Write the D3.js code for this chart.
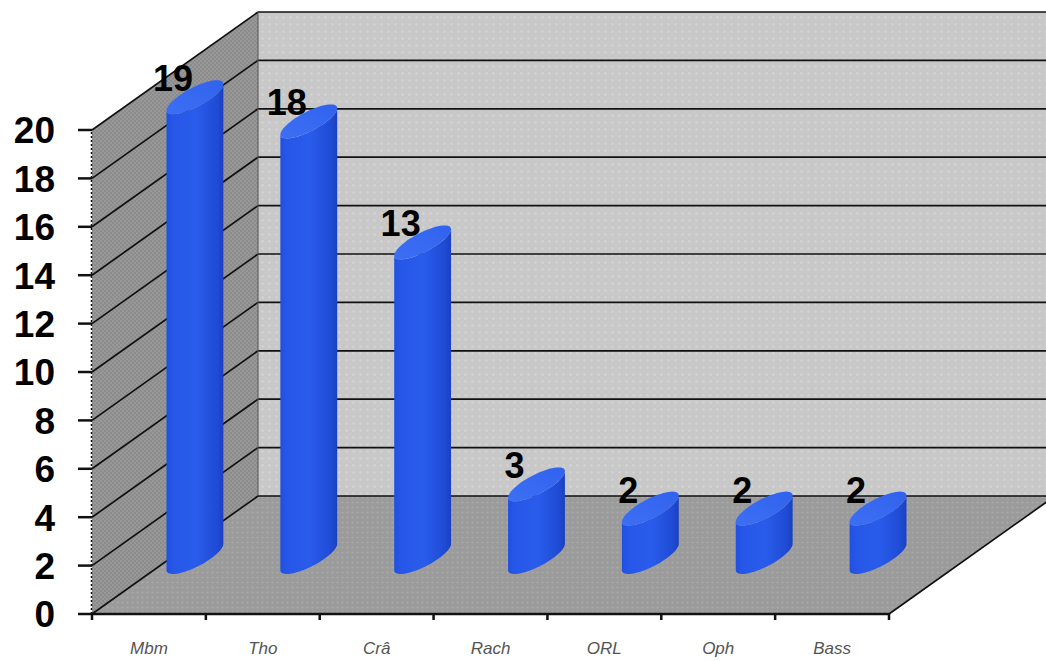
<!DOCTYPE html>
<html><head><meta charset="utf-8">
<script src="https://cdn.jsdelivr.net/npm/d3@7"></script>
<style>body{margin:0;background:#fff}svg{display:block}</style>
</head><body>
<svg id="chart" width="1046" height="661"></svg>
<script>
const categories = ["Mbm","Tho","Crâ","Rach","ORL","Oph","Bass"];
const values = [19,18,13,3,2,2,2];
const yTicks = [0,2,4,6,8,10,12,14,16,18,20];

const svg = d3.select("#chart");
const W = 1046, H = 661;
const x = d3.scaleBand().domain(categories).range([92, 889]);
const y = d3.scaleLinear().domain([0, 20]).range([614, 130]);
const DX = 166, DY = -118; // depth vector
const barDX = 46, barDY = -57; // bar base offset from front band centre
const cw = 18, cvx = 22, cvy = -17; // cylinder radius vectors

const defs = svg.append("defs");
function dotPattern(id, bg, dot, size, r) {
  const p = defs.append("pattern").attr("id", id).attr("patternUnits", "userSpaceOnUse")
    .attr("width", size).attr("height", size);
  p.append("rect").attr("width", size).attr("height", size).attr("fill", bg);
  p.append("circle").attr("cx", size/2).attr("cy", size/2).attr("r", r).attr("fill", dot);
}
dotPattern("backPat", "#c8c8c8", "#d4d4d4", 7, 1.3);
dotPattern("floorPat", "#9b9b9b", "#aaaaaa", 5, 1.1);
const lp = defs.append("pattern").attr("id", "leftPat").attr("patternUnits", "userSpaceOnUse")
  .attr("width", 4).attr("height", 4);
lp.append("rect").attr("width", 4).attr("height", 4).attr("fill", "#8c8c8c");
lp.append("rect").attr("width", 2).attr("height", 2).attr("fill", "#989898");
lp.append("rect").attr("x", 2).attr("y", 2).attr("width", 2).attr("height", 2).attr("fill", "#989898");

const bodyGrad = defs.append("linearGradient").attr("id", "bodyGrad").attr("x1", "0").attr("x2", "1").attr("y1", "0").attr("y2", "0");
bodyGrad.append("stop").attr("offset", "0").attr("stop-color", "#1f50e0");
bodyGrad.append("stop").attr("offset", "0.12").attr("stop-color", "#2657e8");
bodyGrad.append("stop").attr("offset", "0.5").attr("stop-color", "#2a5cec");
bodyGrad.append("stop").attr("offset", "0.88").attr("stop-color", "#1f4cd6");
bodyGrad.append("stop").attr("offset", "1").attr("stop-color", "#1a40c0");
const topGrad = defs.append("linearGradient").attr("id", "topGrad").attr("x1", "0").attr("x2", "1").attr("y1", "1").attr("y2", "0");
topGrad.append("stop").attr("offset", "0").attr("stop-color", "#3d6ff4");
topGrad.append("stop").attr("offset", "1").attr("stop-color", "#3162ee");

const x0 = x.range()[0], x1 = x.range()[1];
const y0 = y(0), yTop = y(20);

// back wall
svg.append("rect").attr("x", x0 + DX).attr("y", yTop + DY).attr("width", W - (x0 + DX) + 20)
  .attr("height", y0 - yTop).attr("fill", "url(#backPat)");
// left wall
svg.append("path").attr("d", `M${x0},${y0}L${x0},${yTop}L${x0+DX},${yTop+DY}L${x0+DX},${y0+DY}Z`)
  .attr("fill", "url(#leftPat)");
// floor
svg.append("path").attr("d", `M${x0},${y0}L${x1},${y0}L${x1+DX},${y0+DY}L${x0+DX},${y0+DY}Z`)
  .attr("fill", "url(#floorPat)");

// gridlines
const grid = svg.append("g").attr("stroke", "#111").attr("stroke-width", 1.7).attr("fill", "none");
yTicks.forEach(v => {
  grid.append("line").attr("x1", x0).attr("y1", y(v)).attr("x2", x0 + DX).attr("y2", y(v) + DY);
  if (v > 0) grid.append("line").attr("x1", x0 + DX).attr("y1", y(v) + DY).attr("x2", W + 20).attr("y2", y(v) + DY);
});
// back-left vertical edge and floor edges
grid.append("line").attr("x1", x0 + DX).attr("y1", yTop + DY).attr("x2", x0 + DX).attr("y2", y0 + DY).attr("stroke-width", 1).attr("stroke", "#555");
grid.append("line").attr("x1", x0 + DX).attr("y1", y0 + DY).attr("x2", W + 20).attr("y2", y0 + DY);
grid.append("line").attr("x1", x1).attr("y1", y0).attr("x2", x1 + DX).attr("y2", y0 + DY);

// y axis (dotted)
svg.append("line").attr("x1", x0 - 0.5).attr("y1", y0).attr("x2", x0 - 0.5).attr("y2", yTop)
  .attr("stroke", "#111").attr("stroke-width", 1.5).attr("stroke-dasharray", "2,2");
const yAxis = svg.append("g");
yAxis.selectAll("line.t").data(yTicks).join("line").attr("class", "t")
  .attr("x1", x0 - 14).attr("x2", x0).attr("y1", d => y(d)).attr("y2", d => y(d))
  .attr("stroke", "#111").attr("stroke-width", 2.5);
yAxis.selectAll("text").data(yTicks).join("text")
  .attr("x", 55).attr("y", d => y(d)).attr("dy", "0.36em").attr("text-anchor", "end")
  .attr("font-family", "Arial, 'Liberation Sans', sans-serif").attr("font-weight", "bold")
  .attr("font-size", 37).attr("fill", "#000").text(d => d);

// x axis
svg.append("line").attr("x1", x0).attr("x2", x1).attr("y1", y0).attr("y2", y0)
  .attr("stroke", "#111").attr("stroke-width", 2.5);
const bounds = categories.map(c => x(c)).concat([x1]);
svg.selectAll("line.xt").data(bounds).join("line").attr("class", "xt")
  .attr("x1", d => d).attr("x2", d => d).attr("y1", y0).attr("y2", y0 + 6)
  .attr("stroke", "#111").attr("stroke-width", 2.5);
svg.selectAll("text.xl").data(categories).join("text").attr("class", "xl")
  .attr("x", d => x(d) + x.bandwidth() / 2).attr("y", 654).attr("text-anchor", "middle")
  .attr("font-family", "Arial, 'Liberation Sans', sans-serif").attr("font-style", "italic")
  .attr("font-size", 17).attr("fill", "#555").text(d => d);

// cylinders
const tR = Math.atan2(cvx, cw), tL = tR + Math.PI;
function pt(cx, cy, t) { return [cx + cw * Math.cos(t) + cvx * Math.sin(t), cy + cvy * Math.sin(t)]; }
function arc(cx, cy, a, b, n) { return d3.range(n + 1).map(i => pt(cx, cy, a + (b - a) * i / n)); }
const line = d3.line();
const bars = svg.append("g");
categories.forEach((c, i) => {
  const cx = x(c) + x.bandwidth() / 2 + barDX;
  const cb = y(0) + barDY;
  const ct = y(values[i]) + barDY;
  const front = arc(cx, cb, tL, tR + 2 * Math.PI, 40);
  const topFront = arc(cx, ct, tR + 2 * Math.PI, tL, 40);
  bars.append("path").attr("d", line(front.concat(topFront)) + "Z").attr("fill", "url(#bodyGrad)");
  bars.append("path").attr("d", line(arc(cx, ct, 0, 2 * Math.PI, 60)) + "Z").attr("fill", "url(#topGrad)");
  bars.append("text").attr("x", cx - 22).attr("y", ct - 6).attr("text-anchor", "middle")
    .attr("font-family", "Arial, 'Liberation Sans', sans-serif").attr("font-weight", "bold")
    .attr("font-size", 36).attr("fill", "#000").text(values[i]);
});
</script>
</body></html>
